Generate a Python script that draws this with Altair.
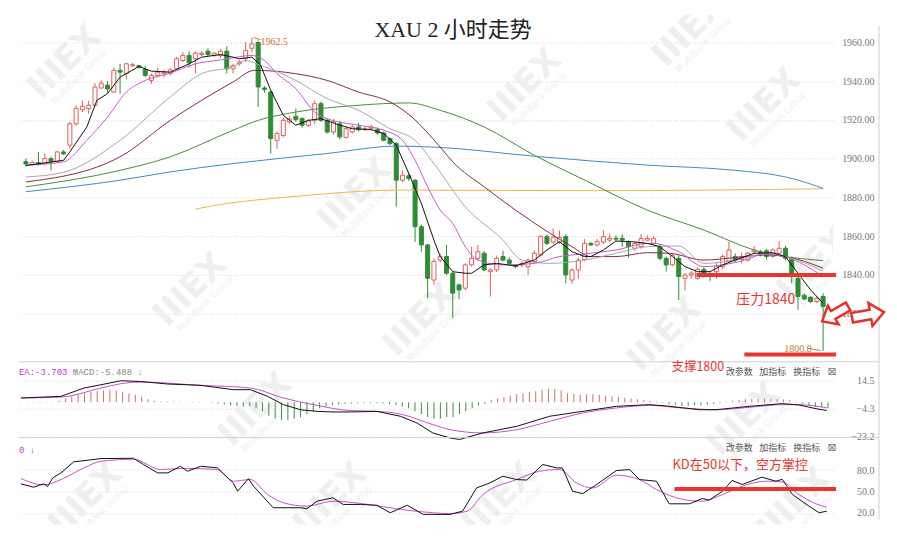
import altair as alt
import pandas as pd

# ---------------- candle data (2h XAU) ----------------
opens = [1898.5,1897,1898,1897.5,1900,1898.5,1903.5,1907,1918,1925.3,1925.8,1927.6,1936.5,1938,1934.4,1945.6,1944,1948,1948,1946,
         1940.4,1943,1943.9,1944,1946.4,1950.7,1953.3,1951.6,1953.8,1955.5,1953.3,1953.3,1955.5,1946.4,1949,1951.6,1957,1960,1936.5,1934.4,
         1909.5,1912,1919,1921.9,1920.7,1917.3,1919.8,1928.4,1919.8,1913.8,1918,1911,1913.8,1916.4,1915,1915.5,1915,1913.3,1910.4,1907.8,
         1888.9,1891.2,1888.9,1864.9,1855.5,1837.4,1847.7,1849.5,1840.9,1834.9,1833.2,1845.2,1848.6,1851.2,1841.7,1842.6,1849.5,1847.7,1844.8,1845.2,
         1844.3,1846.9,1850.3,1859.8,1857,1857,1859.8,1837.4,1842.6,1848,1856.3,1855.5,1857,1858,1858.9,1858.9,1857.2,1853.8,1854.6,1858,
         1856.3,1854.6,1848.6,1845.2,1848.6,1838.3,1840,1838.3,1842.9,1840.5,1841.7,1844.3,1847,1849.5,1848,1847.7,1852,1852,1852.5,1849.5,
         1851.2,1853.8,1848.6,1838.3,1829.5,1828.5,1826.3,1828.9]
closes = [1897.3,1898,1897,1900.1,1898.5,1903.5,1902.5,1918,1926,1927,1927.6,1937,1939,1936,1945.6,1944.7,1949,1948.5,1947.3,1943,
          1943,1944.7,1944.7,1945.9,1951.6,1953.3,1949.5,1954.5,1954.5,1953.8,1954.5,1955.5,1946.4,1948,1949.9,1955.9,1959.3,1937,1935.8,1910.4,
          1913,1919.8,1920.5,1920.2,1917.3,1919.5,1928.4,1919.8,1913.8,1919,1911.3,1915.5,1916.4,1915,1915.5,1916.4,1913.3,1909.5,1907.8,1888.9,
          1891.5,1889.8,1864.9,1855.5,1838.3,1847,1849.5,1840.9,1830.6,1832.3,1845.2,1848.6,1852,1842.6,1842.6,1848.6,1847.7,1846,1844.3,1846,
          1847.7,1851.2,1859.8,1856.3,1859.5,1859.3,1840,1842.6,1847.7,1856.3,1855.5,1857.2,1859.8,1858.9,1858.5,1858,1854.6,1856.3,1858.9,1858.9,
          1858.9,1848.6,1845.2,1850,1839.2,1840,1841,1842.9,1839.2,1839.8,1844.5,1849.5,1852.9,1847.7,1849.5,1851.2,1852.9,1851.2,1849.5,1852.9,
          1853.8,1848.6,1839.2,1828.9,1827.6,1826.3,1828,1823.7]
highs = [1900,1899,1903.5,1902.7,1901,1904,1904.5,1919,1927.5,1930,1930,1939,1940.5,1940,1947,1949,1949.5,1949.5,1948.5,1948,
         1944,1947,1946,1947,1952.5,1955,1955.5,1955.5,1955.5,1957,1955,1956.5,1958,1949,1951,1960.2,1962.5,1961,1937.5,1935,
         1914,1921,1922,1926,1921.5,1920.5,1930,1929.5,1921,1920.5,1919.5,1917,1917.5,1918.5,1916.5,1917.5,1916,1914,1911,1908.5,
         1894,1892.5,1889.5,1866,1856,1848.5,1851,1855.5,1841.5,1835.5,1846,1854.6,1855.5,1852.5,1843.5,1850,1852.5,1849,1845.5,1847,
         1848.5,1852.5,1860.5,1861,1864,1863,1861,1843.5,1849,1858.5,1857,1858.5,1863,1861,1860.5,1861,1858,1857,1861,1860.5,
         1860,1856,1849.5,1851.2,1850,1841,1842,1844,1844,1842,1846.5,1850.5,1857,1851,1851.5,1852,1855,1853,1853.5,1853.8,
         1857.5,1855,1849.5,1839,1830.5,1829,1829,1830.5]
lows = [1896,1896.5,1896.5,1897,1894,1898,1902,1905,1917,1924,1923.3,1927,1936,1934,1934,1933.6,1941,1947.5,1946.5,1942,
        1938.7,1942,1942,1943,1946,1950,1947,1944,1953,1953,1952.5,1952,1944,1944,1948,1950,1955,1926.7,1934,1902.7,
        1905.2,1911,1918,1919,1916,1916.5,1918,1919,1913,1912.5,1910,1910.5,1913,1914,1914.5,1914.5,1912.5,1909,1907,1875.2,
        1888,1888.5,1857,1852,1828,1835,1846.5,1840,1817.7,1827.5,1832,1844.5,1847.5,1842,1828.9,1841.5,1847,1845,1843.5,1844,
        1840,1846,1849.5,1855.5,1856,1856,1835.7,1835.5,1838,1847,1855,1854.5,1856,1857,1857.5,1854.5,1849,1852.5,1853.5,1857.5,
        1855.5,1847.5,1841.7,1844.5,1827.1,1832,1838,1837.5,1838.5,1837,1838,1843,1846,1846.5,1846,1847,1851,1849.5,1848,1849,
        1850.5,1847.5,1835.7,1822,1827,1825.5,1825.5,1800.8]

# ---------------- moving averages (sampled along the curves) ----------------
ma_black_i = [0,6,7,9.7,11.3,13,15,18,20,23,26,28,31,33,34,36,37.4,38.9,41,43,45,47,50,52,55,57,59,61,63,65,
              66,68,70,71,73,75,78,81,83,85,87,89,90,92,94,96.5,99,101,103,105,107,109,111,113,116,119,121,123,125,127]
ma_black_v = [1896.5,1899.2,1903.5,1916.4,1930.1,1933.6,1942.1,1947.6,1945.2,1944.7,1949,1952.4,1953.8,1952.4,1951.6,1952.4,1948.2,1936.1,1922.4,1917.3,
              1919.8,1920.7,1917.3,1915.5,1915,1913,1907,1892.4,1876.9,1858,1849.5,1841.7,1840.9,1840.9,1845.2,1846,1844.7,1847.7,1852.9,1857.2,
              1852,1849.5,1849.5,1852.9,1857.5,1857.2,1856.3,1854.6,1849.5,1844.3,1841.7,1841.7,1845.2,1847.7,1851.2,1851.5,1849.5,1840.9,1832.3,1825.4]
ma_mag_i = [0,6,9.7,13,16,19,23,27,31,33,36,38,40,43,46,48,53,57,60,62,64,66,68,70,72,76,81,85,89,94,99,100,104,108,111,114.6,118,121,127]
ma_mag_v = [1896.7,1898.4,1909.5,1921.5,1934.4,1940.4,1944.2,1949,1951,1952.1,1953.3,1950.7,1943.9,1936.2,1924.1,1920.7,1917.3,1914.7,1909.5,1899.2,
            1885.5,1873.5,1866.6,1854.6,1847.7,1845.2,1846,1849.5,1850.9,1852.9,1856.3,1856.3,1852,1844.3,1845.2,1847.7,1851.2,1849.5,1839.2]
ma_grey_i = [0,6,15,23,28,33,35,37.4,43,48,53,58,62,65,70,76,79,83.5,89,94,99,104,108,113,118,121,127]
ma_grey_v = [1890.6,1893,1909.5,1931.9,1943.9,1947.6,1950.7,1948.2,1940.4,1931,1925,1915.5,1909.5,1897.5,1875.2,1858,1847.7,1846,1847.7,1851.2,
             1854.6,1855,1846,1847.7,1850.9,1849.5,1842]
ma_maroon_i = [0,15,23,33,36.4,43,48,53,58,61.5,66,68,73,78,83.5,87,90,94,99,102.5,108,113,118,121,127]
ma_maroon_v = [1888,1901,1919.8,1939.6,1945.6,1943.9,1940.4,1934.4,1929.3,1921.5,1906,1898.4,1885.5,1873.5,1861.5,1854.6,1849.5,1849.5,1851.5,1851.2,
               1847.7,1849,1850.3,1849.5,1843.5]
ma_green_i = [0,15,23,33,37,43,53,61,66,73,81,89,99,108,116,127]
ma_green_v = [1885.5,1894,1901,1914.7,1919.8,1924.1,1927.6,1928.8,1925,1916.4,1901.8,1889,1873.5,1863.2,1852.9,1847.4]
ma_blue_i = [0,15,23,33,48,59,65,81,99,113,121,124,127]
ma_blue_v = [1883,1888.9,1893.2,1897.5,1902.7,1906.5,1906,1901.3,1896.7,1894,1890.6,1888,1884.7]
ma_orange_i = [27,32,41,48,59,91,127]
ma_orange_v = [1874,1876.9,1880,1882,1883.8,1883.5,1884.5]

# ---------------- MACD ----------------
macd_hist = [0.3,0.3,0.3,0.3,0.3,0.3,1,2.5,4,5,6,7,7.5,8,8.5,8,7,6,5,3.5,2,1,
             0.5,0.4,0.4,0.3,0.3,0.3,0.3,0.2,-0.3,-0.8,
             -1.5,-2,-2.5,-3,-2.5,-4,-6,-9,-11,-12,-12,-11,-10,-8,-6,-4,-3,-2,-1.5,-1,
             -0.8,-0.7,-0.6,-0.6,-0.5,-0.8,-1.2,
             -2,-3,-4,-6,-8,-10,-11,-11,-10,-10,-8,-6,-4,-2,-1,
             1.5,2.5,3.5,4.5,5.5,6,7,7.5,8.5,9,9,8,6,5.5,5,5.5,5.5,5,4.5,4,3.5,3,2.5,2,1.5,1,0.5,
             -0.5,-1.5,-1.5,-2.5,-2.5,-2,-2,-1.5,-1,-0.5,0.5,1,1.5,2,2.5,2.5,2.5,2,2,2,1.5,0.5,-1,-2,-3,-3.5,-4]
dif_i = [0,6.3,9.9,12.6,15.7,18.8,23.1,28.3,33.4,36.1,38.8,41.3,44,46.6,49.1,51.8,56,59.7,62.3,64.8,
         67.5,69,72.7,78,83.2,88.4,93.7,98.9,101.6,106.8,109.4,114.6,119.8,122.4,125.1,126.8]
dif_v = [2.9,4,9.6,11.8,14.5,14,12.3,11.4,8.5,8.5,4,-1.6,-5,-6.1,-6.5,-6.5,-6.1,-9.4,-13.9,-20.6,
         -24,-25,-20.6,-16.2,-9.4,-6.1,-2.7,-1.6,-2.5,-5,-5,-2.7,-0.9,-1.8,-4.3,-5.5]
dea_i = [0,6.3,12.6,15.7,18.8,28.3,36.1,41.3,46.6,51.8,56,59.7,64.8,67.5,72.7,78,83.2,88.4,93.7,98.9,104,109.4,114.6,119.8,122.4,126.8]
dea_v = [2.9,3.5,9.6,12.5,13.6,11.4,9.6,2.9,-2.1,-5.6,-6.1,-7.9,-15,-18.4,-20.6,-18.4,-12.8,-7.2,-3.8,-2.1,-3.8,-5,-3.4,-1.6,-1.6,-3.7]

# ---------------- KD ----------------
k_i = [0,2,3.6,4.2,5,6.3,8.3,12.6,17.7,19.3,21.5,23.1,25.1,26.2,28.3,30.9,33.4,34.1,35.8,36.6,
       39.7,44,45,46.6,49.1,50.7,53.4,56,58.1,60.8,63.3,67.5,69.5,71.7,73.8,75.8,78,79.6,82.1,84.3,
       85.2,86.8,88.4,90.6,93.7,95.8,97.3,100,102,105.2,107.2,108.3,110.4,111.9,113.5,116.6,118.8,119.8,121.4,124,125.6,126.8]
k_v = [60.7,56,60.7,57,69,76,91.4,96,96.5,87.7,76,76,85.3,78.3,85.3,83,62,50.4,68,57.4,
       27.3,27.3,26,36.5,41.2,31.9,31.9,30.8,20.3,30.8,18,18,22.5,55,62,71.3,66.7,66,87.7,83,
       83,50.4,47,59.8,79.3,80.7,66.7,64.4,32.8,32.8,40.2,38,50.4,65.4,59.8,70,64.4,67,45.8,29.5,20.3,22.5]
d_i = [0,3.6,6.3,9.9,12.6,17.7,22,25.6,30.9,33.4,36.1,38.8,41.3,45,49.1,54.5,59.7,64.8,67.5,70.2,
       72.7,78,81.6,84.8,87.4,90,93.7,97.3,100,104.2,107.2,110.4,113.5,117.3,119.8,122.4,125.1,126.8]
d_v = [68,59.3,66.7,83,92.3,95,80.7,82.3,80.7,64.4,66.7,45.8,34.2,29.5,36.5,32,25,20.3,19,22.5,
       45.8,66.7,78.3,80.7,62,55,72.8,66.7,52.8,38.8,36.5,45.8,57.5,64.4,63.3,45.8,32.8,28]

price_ticks = [1960, 1940, 1920, 1900, 1880, 1860, 1840, 1820]
macd_ticks = [14.5, -4.3, -23.2]
kd_ticks = [80, 50, 20]

# ---------------- layout constants ----------------
W = 816
TOP = 14
H_MAIN, H_MACD, H_KD = 348, 76, 87
XDOM = [-0.31, 127.8]
MAIN_DOM = [1795.2, 1974.4]
MACD_DOM = [-23.76, 27.25]
KD_DOM = [4, 125.3]

RED = "#dd5f5a"
GREEN = "#2f8c34"
ANNO = "#e8362f"
CJK = "Noto Sans CJK SC"

one = pd.DataFrame({"k": [0]})
xenc = alt.X("i:Q", scale=alt.Scale(domain=XDOM, nice=False, zero=False), axis=None)


def axis(vals, fmt):
    return alt.Axis(orient="right", values=vals, format=fmt, labelAlign="right", labelPadding=41,
                    ticks=False, domain=False, grid=True, gridDash=[1, 2], gridColor="#d4d4d4",
                    labelFont="Liberation Serif", labelFontSize=10, labelColor="#777777", title=None)


main_axis = axis(price_ticks, ".2f")
macd_axis = axis(macd_ticks, ".1f")
kd_axis = axis(kd_ticks, ".1f")


def yq(field, dom, ax):
    return alt.Y(field, type="quantitative", scale=alt.Scale(domain=dom, nice=False, zero=False), axis=ax)


def txt(x, y, s, size, color, font=CJK, align="left", weight="normal", angle=0, clip=False):
    return alt.Chart(one).mark_text(text=s, fontSize=size, color=color, font=font, align=align,
                                    baseline="middle", fontWeight=weight, angle=angle, clip=clip).encode(
        x=alt.value(x), y=alt.value(y))


def line(idx, vals, color, dom, ax, interp="monotone", sw=1):
    df = pd.DataFrame({"i": idx, "v": vals})
    return alt.Chart(df).mark_line(color=color, strokeWidth=sw, interpolate=interp).encode(
        x=xenc, y=yq("v", dom, ax))


# watermark centres (page pixels) - decoration only
WM = [(64, 62), (525, 85), (765, 105), (690, 30), (355, 195), (190, 290), (420, 320), (665, 335),
      (815, 265), (255, 410), (745, 420), (85, 500), (330, 500), (500, 500), (795, 505)]


def watermarks(top, h):
    out = []
    for (px, py) in WM:
        if top - 50 < py < top + h + 50:
            out.append(txt(px - 18, py - top, "IIIEX", 34, "#efefef", font="DejaVu Sans", align="center",
                           weight="bold", angle=315, clip=True))
            out.append(txt(px - 18 + 14, py - top + 14, "MultiBank Group", 9, "#efefef", font="DejaVu Sans",
                           align="center", angle=315, clip=True))
    return out


def toolbar(y):
    return [
        txt(722, y, "改参数", 9, "#555555", align="center"),
        txt(755.5, y, "加指标", 9, "#555555", align="center"),
        txt(789.5, y, "换指标", 9, "#555555", align="center"),
        txt(815, y, "⊠", 11, "#777777", font="DejaVu Sans", align="center"),
    ]


# ---------------- main panel ----------------
cd = pd.DataFrame({"i": list(range(len(opens))), "o": opens, "h": highs, "l": lows, "c": closes})
cd["up"] = cd["c"] >= cd["o"]

layers = watermarks(TOP, H_MAIN)

base = alt.Chart(cd)
wick_up = base.transform_filter("datum.up").mark_rule(color=RED, strokeWidth=1).encode(
    x=xenc, y=yq("l", MAIN_DOM, main_axis), y2="h:Q")
wick_dn = base.transform_filter("!datum.up").mark_rule(color=GREEN, strokeWidth=1).encode(
    x=xenc, y=yq("l", MAIN_DOM, main_axis), y2="h:Q")
body_up = base.transform_filter("datum.up").mark_bar(size=4, fill="white", stroke=RED, strokeWidth=1).encode(
    x=xenc, y=yq("o", MAIN_DOM, main_axis), y2="c:Q")
body_dn = base.transform_filter("!datum.up").mark_bar(size=4, fill=GREEN, stroke=GREEN, strokeWidth=1).encode(
    x=xenc, y=yq("o", MAIN_DOM, main_axis), y2="c:Q")
layers += [wick_up, wick_dn, body_up, body_dn]

layers += [
    line(ma_orange_i, ma_orange_v, "#e9b949", MAIN_DOM, main_axis),
    line(ma_blue_i, ma_blue_v, "#3d8dbf", MAIN_DOM, main_axis),
    line(ma_green_i, ma_green_v, "#4d8a3c", MAIN_DOM, main_axis),
    line(ma_maroon_i, ma_maroon_v, "#7d2f42", MAIN_DOM, main_axis),
    line(ma_grey_i, ma_grey_v, "#a8a8a8", MAIN_DOM, main_axis),
    line(ma_mag_i, ma_mag_v, "#c858c8", MAIN_DOM, main_axis),
    line(ma_black_i, ma_black_v, "#111111", MAIN_DOM, main_axis, interp="linear"),
]

layers.append(alt.Chart(one).mark_rule(color="#cfcfcf", strokeWidth=1).encode(
    x=alt.value(862), y=alt.value(11), y2=alt.value(H_MAIN)))

layers.append(txt(435, 15, "XAU 2 小时走势", 22, "#222222", font="Liberation Serif, " + CJK, align="center"))
layers.append(txt(242, 27, "1962.5", 10, "#d06a30", font="Liberation Serif"))
layers.append(alt.Chart(one).mark_rule(color="#d06a30", strokeWidth=1).encode(
    x=alt.datum(37.4), x2=alt.datum(36.3), y=alt.datum(1961.4), y2=alt.datum(1962.6)))
layers.append(txt(767, 335, "1800.8", 10, "#c47a3c", font="Liberation Serif"))
layers.append(alt.Chart(one).mark_rule(color="#c47a3c", strokeWidth=1).encode(
    x=alt.datum(124.4), x2=alt.datum(126.6), y=alt.datum(1802.3), y2=alt.datum(1801.0)))
layers.append(alt.Chart(one).mark_rule(color=ANNO, strokeWidth=4).encode(
    x=alt.value(679), x2=alt.value(819), y=alt.datum(1840)))
layers.append(alt.Chart(one).mark_rule(color=ANNO, strokeWidth=4).encode(
    x=alt.value(727), x2=alt.value(819), y=alt.datum(1799)))
layers.append(txt(719, 286, "压力1840", 14, ANNO))

ARROW = "M -1 -0.3 L 0.15 -0.3 L 0.15 -0.72 L 1 0 L 0.15 0.72 L 0.15 0.3 L -1 0.3 Z"
layers.append(alt.Chart(one).mark_point(shape=ARROW, filled=True, fill="white", stroke="#e8302a",
                                        strokeWidth=2.5, size=900, angle=150, opacity=1).encode(
    x=alt.value(818), y=alt.value(300)))
layers.append(alt.Chart(one).mark_point(shape=ARROW, filled=True, fill="white", stroke="#e8302a",
                                        strokeWidth=2.5, size=1050, angle=350, opacity=1).encode(
    x=alt.value(851), y=alt.value(301)))

main = alt.layer(*layers).properties(width=W, height=H_MAIN)

# ---------------- MACD panel ----------------
hd = pd.DataFrame({"i": list(range(len(macd_hist))), "v": macd_hist})
hist = alt.Chart(hd).mark_rule(strokeWidth=1).encode(
    x=xenc, y=yq("v", MACD_DOM, macd_axis), y2=alt.datum(0),
    color=alt.condition("datum.v >= 0", alt.value("#c96e6e"), alt.value("#3e8e42")))
macd_layers = watermarks(TOP + H_MAIN, H_MACD) + [
    alt.Chart(one).mark_rule(color="#d0d0d0").encode(x=alt.value(0), x2=alt.value(862), y=alt.value(0)),
    alt.Chart(one).mark_rule(color="#cfcfcf").encode(x=alt.value(862), y=alt.value(0), y2=alt.value(H_MACD)),
    hist,
    line(dea_i, dea_v, "#c850c8", MACD_DOM, macd_axis),
    line(dif_i, dif_v, "#111111", MACD_DOM, macd_axis, interp="linear"),
    txt(0, 10, "EA:-3.703 ↓", 9, "#c040c0", font="Liberation Mono"),
    txt(54, 10, "MACD:-5.488 ↓", 9, "#888888", font="Liberation Mono"),
    txt(654, 5, "支撑1800", 12.5, ANNO),
] + toolbar(10)
macd = alt.layer(*macd_layers).properties(width=W, height=H_MACD)

# ---------------- KD panel ----------------
kd_layers = watermarks(TOP + H_MAIN + H_MACD, H_KD) + [
    alt.Chart(one).mark_rule(color="#d0d0d0").encode(x=alt.value(0), x2=alt.value(862), y=alt.value(0)),
    alt.Chart(one).mark_rule(color="#cfcfcf").encode(x=alt.value(862), y=alt.value(0), y2=alt.value(82)),
    line(d_i, d_v, "#c850c8", KD_DOM, kd_axis),
    line(k_i, k_v, "#111111", KD_DOM, kd_axis, interp="linear"),
    alt.Chart(one).mark_rule(color=ANNO, strokeWidth=4).encode(
        x=alt.value(657), x2=alt.value(819), y=alt.datum(53.5)),
    txt(0, 12, "0 ↓", 9, "#c040c0", font="Liberation Mono"),
    txt(655, 27.5, "KD在50以下，空方掌控", 13, ANNO),
] + toolbar(10.5)
kd = alt.layer(*kd_layers).properties(width=W, height=H_KD)

chart = alt.vconcat(main, macd, kd, spacing=0, bounds="flush").properties(
    padding={"left": 10, "top": 6, "right": 0, "bottom": 0}, background="white"
).configure_view(strokeWidth=0)

chart.save("out.html", embed_options={"renderer": "svg", "actions": False})
